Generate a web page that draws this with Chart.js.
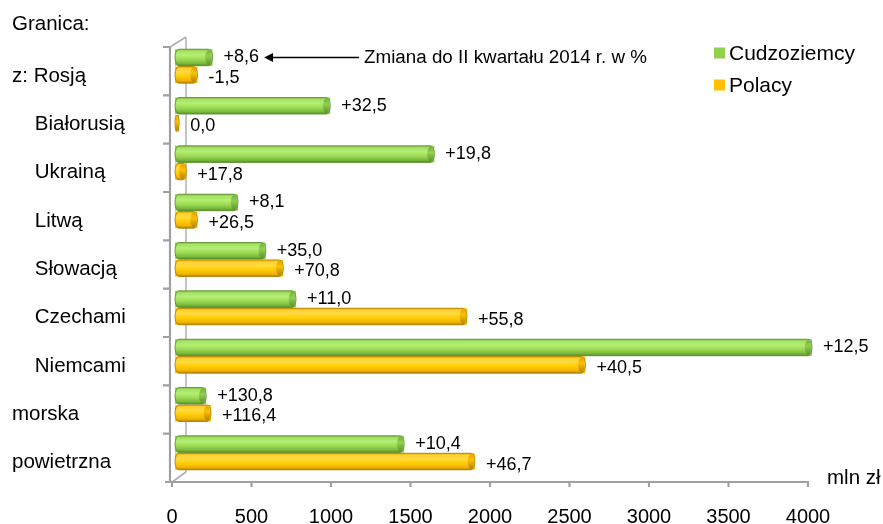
<!DOCTYPE html>
<html><head><meta charset="utf-8">
<script src="https://cdn.jsdelivr.net/npm/chart.js@4.4.0/dist/chart.umd.min.js"></script>
<style>html,body{margin:0;padding:0;background:#fff;}</style>
</head><body>
<canvas id="c" width="883" height="524"></canvas>
<script>
// ---- data ----
const categories = ['z: Rosją','Białorusią','Ukrainą','Litwą','Słowacją','Czechami','Niemcami','morska','powietrzna'];
const indented = [false,true,true,true,true,true,true,false,false];
const cudzoziemcy = [255, 995, 1650, 415, 590, 780, 4025, 215, 1460];
const polacy = [160, 45, 90, 160, 700, 1855, 2600, 245, 1905];
const changeCudzoziemcy = ['+8,6','+32,5','+19,8','+8,1','+35,0','+11,0','+12,5','+130,8','+10,4'];
const changePolacy = ['-1,5','0,0','+17,8','+26,5','+70,8','+55,8','+40,5','+116,4','+46,7'];
const seriesNames = ['Cudzoziemcy','Polacy'];
const xMin = 0, xMax = 4000, xStep = 500;
const headerText = 'Granica:';
const unitText = 'mln zł';
const noteText = 'Zmiana do II kwartału 2014 r. w %';

const FONT = '"Liberation Sans", Arial, sans-serif';
const baseColors = ['#92D050', '#FFC000'];
const gradStops = [
  [[0,'#84c048'],[0.12,'#a6e264'],[0.35,'#b4ee74'],[0.6,'#9cdc54'],[0.85,'#7cbc3e'],[1,'#5a8e2a']],
  [[0,'#e6ac00'],[0.12,'#ffd230'],[0.35,'#ffda40'],[0.6,'#ffcc00'],[0.85,'#f0b400'],[1,'#b88400']]
];
const capColors = ['#6ea83a', '#d9a000'];
const edgeColors = ['#5a8c2c', '#a87a00'];

function cylinder(ctx, el, di){
  const h = el.height, y = el.y, top = y - h/2, bot = y + h/2;
  const left = Math.min(el.base, el.x) + 3, right = Math.max(el.base, el.x);
  const rx = Math.min(4, (right-left)/2);
  const g = ctx.createLinearGradient(0, top, 0, bot);
  gradStops[di].forEach(s => g.addColorStop(s[0], s[1]));
  ctx.save();
  ctx.beginPath();
  ctx.moveTo(left+rx, top);
  ctx.lineTo(right-rx, top);
  ctx.ellipse(right-rx, y, rx, h/2, 0, -Math.PI/2, Math.PI/2);
  ctx.lineTo(left+rx, bot);
  ctx.ellipse(left+rx, y, rx, h/2, 0, Math.PI/2, Math.PI*1.5);
  ctx.closePath();
  ctx.fillStyle = g; ctx.fill();
  ctx.lineWidth = 0.8; ctx.strokeStyle = edgeColors[di]; ctx.stroke();
  // end cap
  ctx.beginPath();
  ctx.ellipse(right-rx, y, Math.max(rx-0.8,0.5), h/2-1, 0, 0, Math.PI*2);
  const g2 = ctx.createLinearGradient(0, top, 0, bot);
  g2.addColorStop(0, capColors[di]); g2.addColorStop(0.4, baseColors[di]); g2.addColorStop(1, edgeColors[di]);
  ctx.fillStyle = g2; ctx.fill();
  ctx.restore();
}

const framePlugin = {
  id: 'frame',
  beforeDatasetsDraw(chart){
    const {ctx, chartArea:a, scales:{x, y}} = chart;
    // clear the library's flat bars area is not needed; draw frame
    const fx = x.getPixelForValue(0) - 2, depthX = 16, depthY = 10;
    const frontTop = a.top + 5, frontBot = a.bottom + 5;
    const n = categories.length, bandH = (a.bottom - a.top)/n;
    ctx.save();
    ctx.lineCap = 'butt';
    ctx.strokeStyle = '#c4c4c4'; ctx.lineWidth = 2;
    ctx.beginPath();
    ctx.moveTo(fx+depthX, frontTop-depthY); ctx.lineTo(fx+depthX, frontBot-depthY);
    ctx.stroke();
    ctx.strokeStyle = '#b0b0b0'; ctx.lineWidth = 1.6;
    ctx.beginPath();
    ctx.moveTo(fx, frontTop); ctx.lineTo(fx+depthX, frontTop-depthY);
    ctx.moveTo(fx+2, frontBot); ctx.lineTo(fx+depthX, frontBot-depthY);
    ctx.stroke();
    ctx.strokeStyle = '#a0a0a0'; ctx.lineWidth = 2.2;
    ctx.beginPath();
    ctx.moveTo(fx, frontTop); ctx.lineTo(fx, frontBot);
    for (let k = 0; k < n; k++){
      const yy = frontTop + k*bandH;
      ctx.moveTo(fx-7, yy); ctx.lineTo(fx, yy);
    }
    ctx.moveTo(fx-5, frontBot); ctx.lineTo(x.getPixelForValue(xMax)+1, frontBot);
    for (let v = xMin; v <= xMax; v += xStep){
      const xx = x.getPixelForValue(v);
      ctx.moveTo(xx, frontBot); ctx.lineTo(xx, frontBot+5);
    }
    ctx.stroke();
    ctx.restore();
  },
  afterDatasetsDraw(chart){
    const ctx = chart.ctx;
    const labels = [changeCudzoziemcy, changePolacy];
    // cover library's flat bar start so cylinders start slightly inside
    chart.data.datasets.forEach((ds, di) => {
      chart.getDatasetMeta(di).data.forEach(el => {
        ctx.save(); ctx.fillStyle = '#fff';
        ctx.fillRect(el.base - 1, el.y - el.height/2 - 0.5, 4, el.height + 1);
        ctx.restore();
      });
    });
    chart.data.datasets.forEach((ds, di) => {
      chart.getDatasetMeta(di).data.forEach(el => cylinder(ctx, el, di));
    });
    ctx.save();
    ctx.fillStyle = '#000';
    ctx.font = '18px ' + FONT;
    ctx.textBaseline = 'middle'; ctx.textAlign = 'left';
    chart.data.datasets.forEach((ds, di) => {
      chart.getDatasetMeta(di).data.forEach((el, i) => {
        ctx.fillText(labels[di][i], el.x + 11, el.y + (di === 1 ? 3 : 0));
      });
    });
    const el0 = chart.getDatasetMeta(0).data[0];
    const lx = el0.x + 11, ly = el0.y;
    const tip = lx + ctx.measureText(labels[0][0]).width + 5;
    ctx.beginPath();
    ctx.moveTo(tip, ly); ctx.lineTo(tip+9, ly-4.5); ctx.lineTo(tip+9, ly+4.5); ctx.closePath();
    ctx.fill();
    ctx.strokeStyle = '#000'; ctx.lineWidth = 1.6;
    ctx.beginPath(); ctx.moveTo(tip+8, ly); ctx.lineTo(tip+95, ly); ctx.stroke();
    ctx.font = '18.8px ' + FONT;
    ctx.fillText(noteText, tip + 100, ly);
    ctx.font = '20.5px ' + FONT;
    ctx.fillText(headerText, 12, 24);
    const a = chart.chartArea;
    ctx.fillText(unitText, a.right + 19, a.bottom + 1);
    ctx.font = '21px ' + FONT;
    seriesNames.forEach((name, k) => {
      const cy = 53 + k*32;
      ctx.fillStyle = baseColors[k];
      ctx.fillRect(714, cy-5.5, 11, 11);
      ctx.fillStyle = '#000';
      ctx.fillText(name, 729, cy + 1);
    });
    ctx.restore();
  }
};

new Chart(document.getElementById('c'), {
  type: 'bar',
  data: {
    labels: categories,
    datasets: [
      { label: seriesNames[0], data: cudzoziemcy, backgroundColor: baseColors[0], borderWidth: 0, categoryPercentage: 0.72, barPercentage: 0.95 },
      { label: seriesNames[1], data: polacy, backgroundColor: baseColors[1], borderWidth: 0, categoryPercentage: 0.72, barPercentage: 0.95 }
    ]
  },
  options: {
    indexAxis: 'y',
    responsive: false,
    animation: false,
    devicePixelRatio: 1,
    layout: { padding: { left: 12, right: 75, top: 42, bottom: 0 } },
    plugins: { legend: { display: false }, tooltip: { enabled: false } },
    datasets: { bar: { clip: false } },
    scales: {
      x: {
        min: xMin, max: xMax,
        ticks: { stepSize: xStep, color: '#000', font: { family: FONT, size: 20 }, padding: 28, maxRotation: 0,
          callback: v => String(v) },
        grid: { display: false, drawTicks: false },
        border: { display: false },
        afterFit(s){ s.height = 47; }
      },
      y: {
        ticks: {
          crossAlign: 'far', color: '#000', font: { family: FONT, size: 20.5 }, labelOffset: 10, padding: 0,
          callback: (v, i) => (indented[i] ? '    ' : '') + categories[i]
        },
        grid: { display: false, drawTicks: false },
        border: { display: false },
        afterFit(s){ s.width = 160; }
      }
    }
  },
  plugins: [framePlugin]
});
</script>
</body></html>
